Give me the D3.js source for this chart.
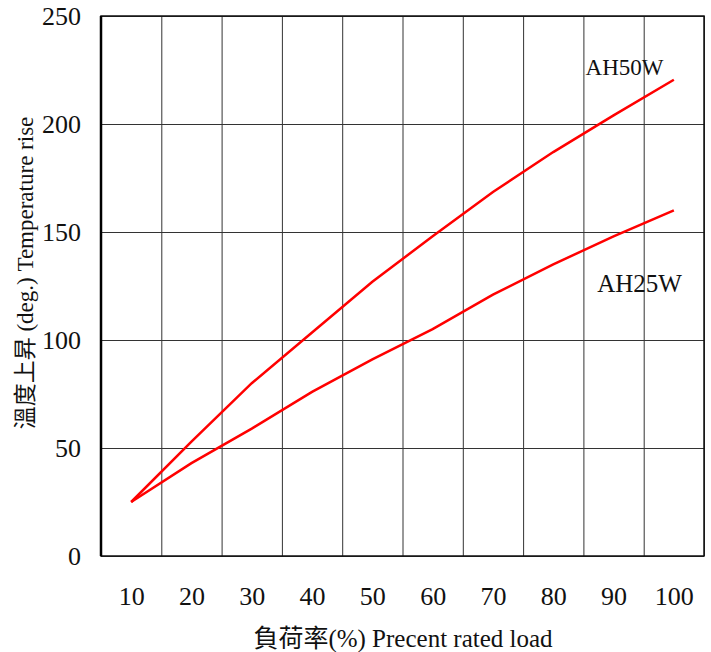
<!DOCTYPE html>
<html>
<head>
<meta charset="utf-8">
<script src="https://cdn.jsdelivr.net/npm/d3@7"></script>
<style>
  body { margin: 0; background: #fff; }
  text { font-family: "Liberation Serif", "Noto Sans CJK TC", serif; }
</style>
</head>
<body>
<div id="chart"></div>
<script>
// data
var loads = [10, 20, 30, 40, 50, 60, 70, 80, 90, 100];
var ah50w = [25, 53, 80, 103.5, 127, 148, 168.5, 187, 204, 220.5];
var ah25w = [25, 43, 59, 76, 91, 105, 121, 135, 148, 160];
var yTicks = [0, 50, 100, 150, 200, 250];
var gridX = [5, 15, 25, 35, 45, 55, 65, 75, 85, 95, 105];

var margin = {top: 16, right: 7, bottom: 96, left: 101},
    width = 711 - margin.left - margin.right,
    height = 652 - margin.top - margin.bottom;

var svg = d3.select("#chart")
  .append("svg")
  .attr("width", 711)
  .attr("height", 652)
  .append("g")
  .attr("transform", "translate(" + margin.left + "," + margin.top + ")");

var x = d3.scaleLinear().domain([5, 105]).range([0, width]);
var y = d3.scaleLinear().domain([0, 250]).range([height, 0]);

// grid lines
var gx = svg.append("g")
  .attr("transform", "translate(0," + height + ")")
  .call(d3.axisBottom(x).tickValues(gridX).tickSize(-height).tickFormat(""));
var gy = svg.append("g")
  .call(d3.axisLeft(y).tickValues(yTicks).tickSize(-width).tickFormat(""));
[gx, gy].forEach(function(g) {
  g.select(".domain").remove();
  g.selectAll("line").attr("stroke", "#333").attr("stroke-width", 1);
});

// frame
svg.append("rect")
  .attr("width", width).attr("height", height)
  .attr("fill", "none").attr("stroke", "#111").attr("stroke-width", 1.5);
svg.append("line")
  .attr("x1", 0).attr("x2", 0).attr("y1", 0).attr("y2", height)
  .attr("stroke", "#000").attr("stroke-width", 2.5);

// tick labels
var xl = svg.append("g")
  .attr("transform", "translate(0," + height + ")")
  .call(d3.axisBottom(x).tickValues(loads).tickSize(0).tickPadding(31));
var yl = svg.append("g")
  .call(d3.axisLeft(y).tickValues(yTicks).tickSize(0).tickPadding(20));
[xl, yl].forEach(function(g) {
  g.attr("font-family", null).attr("font-size", null);
  g.select(".domain").remove();
  g.selectAll("text")
    .attr("font-size", 26)
    .attr("fill", "#111");
});

// lines
var line = d3.line()
  .x(function(d, i) { return x(loads[i]); })
  .y(function(d) { return y(d); });

[ah50w, ah25w].forEach(function(s) {
  svg.append("path")
    .datum(s)
    .attr("d", line)
    .attr("fill", "none")
    .attr("stroke", "#ff0000")
    .attr("stroke-width", 2.5);
});

// series labels
svg.append("text")
  .attr("x", x(90) + 11).attr("y", 59)
  .attr("text-anchor", "middle")
  .attr("font-size", 23)
  .attr("fill", "#111")
  .text("AH50W");
svg.append("text")
  .attr("x", x(90) + 26).attr("y", 276)
  .attr("text-anchor", "middle")
  .attr("font-size", 25)
  .attr("fill", "#111")
  .text("AH25W");

// axis titles
svg.append("text")
  .attr("x", 403 - margin.left).attr("y", 647 - margin.top)
  .attr("text-anchor", "middle")
  .attr("font-size", 25)
  .attr("fill", "#111")
  .text("負荷率(%) Precent rated load");

svg.append("text")
  .attr("transform", "translate(" + (33 - margin.left) + "," + (273 - margin.top) + ") rotate(-90)")
  .attr("text-anchor", "middle")
  .attr("font-size", 23)
  .attr("fill", "#111")
  .text("溫度上昇 (deg.) Temperature rise");
</script>
</body>
</html>
